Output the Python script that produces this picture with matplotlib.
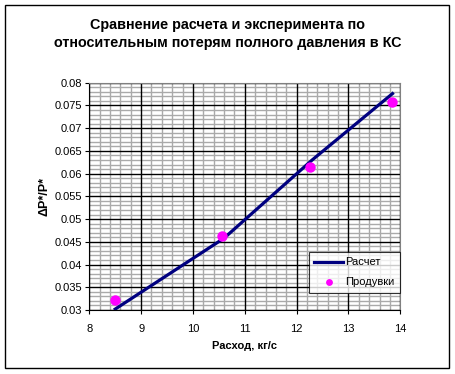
import numpy as np
import matplotlib
matplotlib.use('Agg')
import matplotlib.pyplot as plt
from matplotlib.ticker import MultipleLocator, FuncFormatter
from matplotlib.patches import Rectangle

plt.rcParams['font.family'] = ['Liberation Sans', 'DejaVu Sans']

# --- data ---
flow_calc = [8.5, 10.6, 12.3, 13.85]          # Расход, кг/с
loss_calc = [0.0302, 0.0458, 0.0630, 0.0776]   # Расчет
flow_exp = [8.49, 10.57, 12.26, 13.84]
loss_exp = [0.0322, 0.0462, 0.0614, 0.0757]    # Продувки

title = 'Сравнение расчета и эксперимента по\nотносительным потерям полного давления в КС'

fig = plt.figure(figsize=(4.56, 3.74), dpi=100)
ax = fig.add_axes([0.1958, 0.1711, 0.6820, 0.6078])

# chart-area frame
fig.patches.append(Rectangle((5 / 456, 1 - 368 / 374), 444 / 456, 363 / 374,
                             transform=fig.transFigure, fill=False,
                             edgecolor='black', lw=1.0))

ax.set_xlim(8, 14)
ax.set_ylim(0.03, 0.08)
ax.xaxis.set_major_locator(MultipleLocator(1))
ax.xaxis.set_minor_locator(MultipleLocator(0.2))
ax.yaxis.set_major_locator(MultipleLocator(0.005))
ax.yaxis.set_minor_locator(MultipleLocator(0.001))
ax.yaxis.set_major_formatter(FuncFormatter(lambda v, p: f'{v:.3f}'.rstrip('0')))

# minor grid gray, major grid black on top of it
ax.grid(which='minor', color='#aaaaaa', lw=1.0)
ax.grid(which='major', visible=False)
for xv in ax.get_xticks()[1:-1]:
    ax.axvline(xv, color='black', lw=1.0, zorder=1.5)
for yv in ax.get_yticks()[1:-1]:
    ax.axhline(yv, color='black', lw=1.0, zorder=1.5)
ax.set_axisbelow(True)

ax.plot(flow_calc, loss_calc, color='#000080', lw=2.3, label='Расчет', zorder=3)
ax.plot(flow_exp, loss_exp, 'o', color='#ff00ff', ms=6.5, label='Продувки', zorder=4)

ax.tick_params(which='major', length=3, width=0.8, labelsize=8, pad=2)
ax.tick_params(axis='x', pad=7)
ax.tick_params(which='minor', length=0)
for s in ('top', 'right'):
    ax.spines[s].set_color('#808080')
for s in ('left', 'bottom'):
    ax.spines[s].set_color('black')

ax.set_xlabel('Расход, кг/с', fontsize=8, fontweight='bold', labelpad=5)
ax.set_ylabel('ΔP*/P*', fontsize=9, fontweight='bold', labelpad=3)
fig.text(0.5, 0.909, title, ha='center', va='center', fontsize=10.4,
         fontweight='bold', linespacing=1.4)

leg = ax.legend(loc='lower right', bbox_to_anchor=(0.998, 0.075), fontsize=8,
                frameon=True, fancybox=False, edgecolor='black',
                borderpad=0.5, handlelength=2.6, handletextpad=0.15,
                labelspacing=0.9, markerscale=0.6, borderaxespad=0)
leg.get_frame().set_linewidth(0.8)

fig.savefig('out.png', dpi=100)
